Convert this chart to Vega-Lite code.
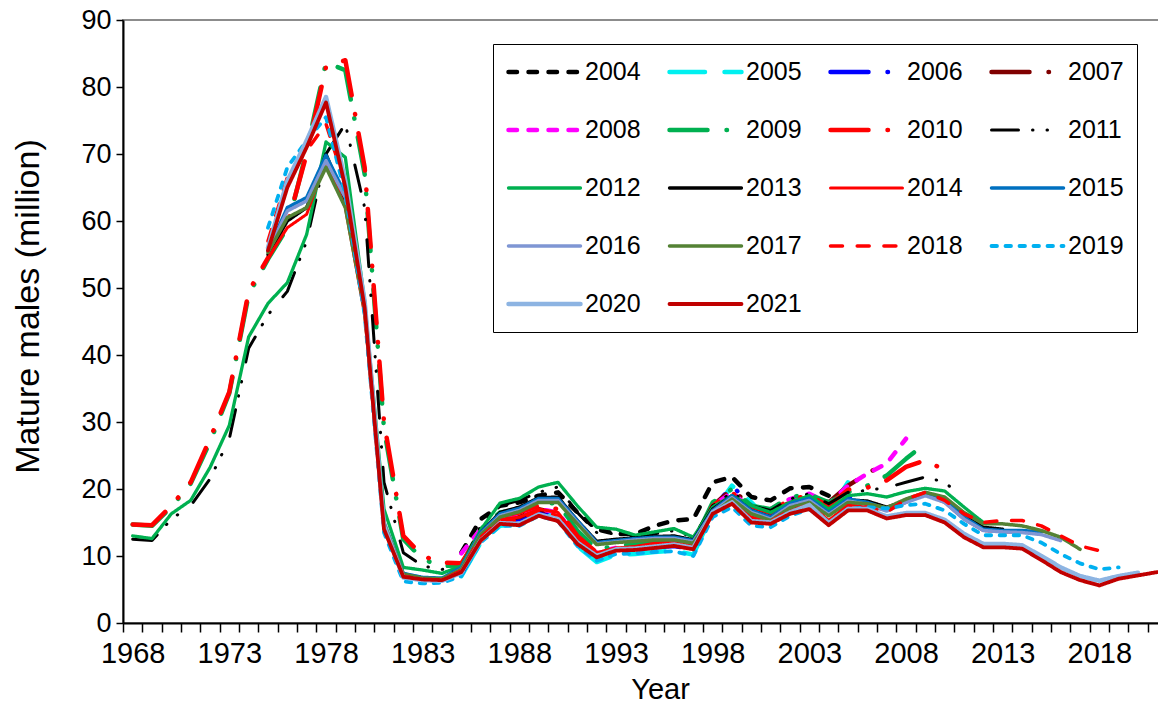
{
"$schema": "https://vega.github.io/schema/vega-lite/v6.json",
"width": 1044, "height": 603,
"autosize": {"type": "none"},
"padding": {"left": 123, "top": 20, "right": 0, "bottom": 81},
"background": "white",
"config": {"view": {"stroke": "#8c8c8c", "strokeWidth": 2}, "font": "Liberation Sans"},
"datasets": {
"d": [
{"series":"2004","year":1985,"males":10.5},{"series":"2004","year":1986,"males":15.5},{"series":"2004","year":1987,"males":17.5},{"series":"2004","year":1988,"males":18.0},{"series":"2004","year":1989,"males":19.0},{"series":"2004","year":1990,"males":19.5},{"series":"2004","year":1991,"males":16.5},{"series":"2004","year":1992,"males":14.0},{"series":"2004","year":1993,"males":13.3},{"series":"2004","year":1994,"males":13.3},{"series":"2004","year":1995,"males":14.5},{"series":"2004","year":1996,"males":15.3},{"series":"2004","year":1997,"males":15.5},{"series":"2004","year":1998,"males":21.0},{"series":"2004","year":1999,"males":21.8},{"series":"2004","year":2000,"males":18.8},{"series":"2004","year":2001,"males":18.3},{"series":"2004","year":2002,"males":20.1},{"series":"2004","year":2003,"males":20.3},{"series":"2004","year":2004,"males":19.0},
{"series":"2005","year":1985,"males":7.0},{"series":"2005","year":1986,"males":12.0},{"series":"2005","year":1987,"males":14.5},{"series":"2005","year":1988,"males":14.8},{"series":"2005","year":1989,"males":16.5},{"series":"2005","year":1990,"males":15.8},{"series":"2005","year":1991,"males":11.5},{"series":"2005","year":1992,"males":9.1},{"series":"2005","year":1993,"males":10.2},{"series":"2005","year":1994,"males":10.3},{"series":"2005","year":1995,"males":10.6},{"series":"2005","year":1996,"males":10.8},{"series":"2005","year":1997,"males":10.2},{"series":"2005","year":1998,"males":16.5},{"series":"2005","year":1999,"males":20.5},{"series":"2005","year":2000,"males":18.0},{"series":"2005","year":2001,"males":15.0},{"series":"2005","year":2002,"males":16.5},{"series":"2005","year":2003,"males":17.8},{"series":"2005","year":2004,"males":16.5},{"series":"2005","year":2005,"males":21.0},
{"series":"2006","year":1985,"males":7.3},{"series":"2006","year":1986,"males":12.5},{"series":"2006","year":1987,"males":15.0},{"series":"2006","year":1988,"males":15.5},{"series":"2006","year":1989,"males":16.8},{"series":"2006","year":1990,"males":16.0},{"series":"2006","year":1991,"males":12.0},{"series":"2006","year":1992,"males":10.0},{"series":"2006","year":1993,"males":10.8},{"series":"2006","year":1994,"males":11.0},{"series":"2006","year":1995,"males":11.3},{"series":"2006","year":1996,"males":11.5},{"series":"2006","year":1997,"males":11.0},{"series":"2006","year":1998,"males":17.0},{"series":"2006","year":1999,"males":20.5},{"series":"2006","year":2000,"males":17.5},{"series":"2006","year":2001,"males":16.0},{"series":"2006","year":2002,"males":17.5},{"series":"2006","year":2003,"males":18.5},{"series":"2006","year":2004,"males":16.5},{"series":"2006","year":2005,"males":18.5},{"series":"2006","year":2006,"males":19.0},
{"series":"2007","year":1985,"males":7.5},{"series":"2007","year":1986,"males":12.8},{"series":"2007","year":1987,"males":15.3},{"series":"2007","year":1988,"males":15.8},{"series":"2007","year":1989,"males":17.0},{"series":"2007","year":1990,"males":16.3},{"series":"2007","year":1991,"males":12.3},{"series":"2007","year":1992,"males":10.3},{"series":"2007","year":1993,"males":11.0},{"series":"2007","year":1994,"males":11.2},{"series":"2007","year":1995,"males":11.5},{"series":"2007","year":1996,"males":11.8},{"series":"2007","year":1997,"males":11.3},{"series":"2007","year":1998,"males":17.5},{"series":"2007","year":1999,"males":20.0},{"series":"2007","year":2000,"males":17.3},{"series":"2007","year":2001,"males":16.5},{"series":"2007","year":2002,"males":18.0},{"series":"2007","year":2003,"males":19.0},{"series":"2007","year":2004,"males":18.0},{"series":"2007","year":2005,"males":20.5},{"series":"2007","year":2006,"males":22.3},{"series":"2007","year":2007,"males":24.0},
{"series":"2008","year":1985,"males":10.4},{"series":"2008","year":1986,"males":14.0},{"series":"2008","year":1987,"males":15.5},{"series":"2008","year":1988,"males":16.0},{"series":"2008","year":1989,"males":17.0},{"series":"2008","year":1990,"males":16.5},{"series":"2008","year":1991,"males":12.5},{"series":"2008","year":1992,"males":10.5},{"series":"2008","year":1993,"males":11.2},{"series":"2008","year":1994,"males":11.5},{"series":"2008","year":1995,"males":11.8},{"series":"2008","year":1996,"males":12.0},{"series":"2008","year":1997,"males":11.5},{"series":"2008","year":1998,"males":17.5},{"series":"2008","year":1999,"males":19.5},{"series":"2008","year":2000,"males":17.0},{"series":"2008","year":2001,"males":17.0},{"series":"2008","year":2002,"males":18.5},{"series":"2008","year":2003,"males":19.3},{"series":"2008","year":2004,"males":17.8},{"series":"2008","year":2005,"males":20.5},{"series":"2008","year":2006,"males":22.3},{"series":"2008","year":2007,"males":23.8},{"series":"2008","year":2008,"males":27.5},
{"series":"2009","year":1968,"males":14.7},{"series":"2009","year":1969,"males":14.5},{"series":"2009","year":1970,"males":17.3},{"series":"2009","year":1971,"males":20.8},{"series":"2009","year":1972,"males":27.0},{"series":"2009","year":1973,"males":34.3},{"series":"2009","year":1974,"males":49.0},{"series":"2009","year":1975,"males":54.3},{"series":"2009","year":1976,"males":59.0},{"series":"2009","year":1977,"males":70.5},{"series":"2009","year":1978,"males":83.7},{"series":"2009","year":1979,"males":82.5},{"series":"2009","year":1980,"males":67.0},{"series":"2009","year":1981,"males":29.0},{"series":"2009","year":1982,"males":12.5},{"series":"2009","year":1983,"males":9.5},{"series":"2009","year":1984,"males":8.5},{"series":"2009","year":1985,"males":8.6},{"series":"2009","year":1986,"males":14.0},{"series":"2009","year":1987,"males":16.5},{"series":"2009","year":1988,"males":17.0},{"series":"2009","year":1989,"males":18.0},{"series":"2009","year":1990,"males":17.8},{"series":"2009","year":1991,"males":13.8},{"series":"2009","year":1992,"males":11.0},{"series":"2009","year":1993,"males":11.5},{"series":"2009","year":1994,"males":11.8},{"series":"2009","year":1995,"males":12.2},{"series":"2009","year":1996,"males":12.3},{"series":"2009","year":1997,"males":12.0},{"series":"2009","year":1998,"males":18.0},{"series":"2009","year":1999,"males":20.0},{"series":"2009","year":2000,"males":17.5},{"series":"2009","year":2001,"males":17.0},{"series":"2009","year":2002,"males":18.8},{"series":"2009","year":2003,"males":19.2},{"series":"2009","year":2004,"males":18.0},{"series":"2009","year":2005,"males":19.5},{"series":"2009","year":2006,"males":20.5},{"series":"2009","year":2007,"males":22.0},{"series":"2009","year":2008,"males":24.5},{"series":"2009","year":2009,"males":26.8},
{"series":"2010","year":1968,"males":14.7},{"series":"2010","year":1969,"males":14.6},{"series":"2010","year":1970,"males":17.5},{"series":"2010","year":1971,"males":21.0},{"series":"2010","year":1972,"males":27.5},{"series":"2010","year":1973,"males":34.5},{"series":"2010","year":1974,"males":49.5},{"series":"2010","year":1975,"males":54.5},{"series":"2010","year":1976,"males":59.5},{"series":"2010","year":1977,"males":70.0},{"series":"2010","year":1978,"males":83.0},{"series":"2010","year":1979,"males":84.0},{"series":"2010","year":1980,"males":68.0},{"series":"2010","year":1981,"males":30.0},{"series":"2010","year":1982,"males":13.0},{"series":"2010","year":1983,"males":10.0},{"series":"2010","year":1984,"males":9.0},{"series":"2010","year":1985,"males":8.9},{"series":"2010","year":1986,"males":13.5},{"series":"2010","year":1987,"males":16.0},{"series":"2010","year":1988,"males":16.5},{"series":"2010","year":1989,"males":17.5},{"series":"2010","year":1990,"males":17.0},{"series":"2010","year":1991,"males":13.0},{"series":"2010","year":1992,"males":10.5},{"series":"2010","year":1993,"males":11.0},{"series":"2010","year":1994,"males":11.3},{"series":"2010","year":1995,"males":11.8},{"series":"2010","year":1996,"males":12.0},{"series":"2010","year":1997,"males":11.5},{"series":"2010","year":1998,"males":17.5},{"series":"2010","year":1999,"males":19.5},{"series":"2010","year":2000,"males":17.0},{"series":"2010","year":2001,"males":16.5},{"series":"2010","year":2002,"males":18.5},{"series":"2010","year":2003,"males":19.0},{"series":"2010","year":2004,"males":17.5},{"series":"2010","year":2005,"males":19.9},{"series":"2010","year":2006,"males":20.2},{"series":"2010","year":2007,"males":21.3},{"series":"2010","year":2008,"males":23.3},{"series":"2010","year":2009,"males":24.3},{"series":"2010","year":2010,"males":22.8},
{"series":"2011","year":1968,"males":12.5},{"series":"2011","year":1969,"males":12.3},{"series":"2011","year":1970,"males":15.5},{"series":"2011","year":1971,"males":17.5},{"series":"2011","year":1972,"males":21.5},{"series":"2011","year":1973,"males":27.5},{"series":"2011","year":1974,"males":41.0},{"series":"2011","year":1975,"males":46.0},{"series":"2011","year":1976,"males":49.5},{"series":"2011","year":1977,"males":57.0},{"series":"2011","year":1978,"males":70.0},{"series":"2011","year":1979,"males":74.5},{"series":"2011","year":1980,"males":62.0},{"series":"2011","year":1981,"males":21.0},{"series":"2011","year":1982,"males":10.5},{"series":"2011","year":1983,"males":8.5},{"series":"2011","year":1984,"males":8.0},{"series":"2011","year":1985,"males":8.3},{"series":"2011","year":1986,"males":14.5},{"series":"2011","year":1987,"males":17.5},{"series":"2011","year":1988,"males":18.3},{"series":"2011","year":1989,"males":19.5},{"series":"2011","year":1990,"males":20.3},{"series":"2011","year":1991,"males":16.5},{"series":"2011","year":1992,"males":13.5},{"series":"2011","year":1993,"males":13.3},{"series":"2011","year":1994,"males":12.8},{"series":"2011","year":1995,"males":13.3},{"series":"2011","year":1996,"males":13.8},{"series":"2011","year":1997,"males":12.8},{"series":"2011","year":1998,"males":17.5},{"series":"2011","year":1999,"males":19.5},{"series":"2011","year":2000,"males":17.5},{"series":"2011","year":2001,"males":16.8},{"series":"2011","year":2002,"males":18.5},{"series":"2011","year":2003,"males":19.3},{"series":"2011","year":2004,"males":17.8},{"series":"2011","year":2005,"males":19.5},{"series":"2011","year":2006,"males":19.8},{"series":"2011","year":2007,"males":20.2},{"series":"2011","year":2008,"males":21.0},{"series":"2011","year":2009,"males":21.8},{"series":"2011","year":2010,"males":21.0},{"series":"2011","year":2011,"males":18.6},
{"series":"2012","year":1968,"males":13.0},{"series":"2012","year":1969,"males":12.6},{"series":"2012","year":1970,"males":16.3},{"series":"2012","year":1971,"males":18.3},{"series":"2012","year":1972,"males":23.2},{"series":"2012","year":1973,"males":29.5},{"series":"2012","year":1974,"males":42.7},{"series":"2012","year":1975,"males":47.7},{"series":"2012","year":1976,"males":50.8},{"series":"2012","year":1977,"males":58.0},{"series":"2012","year":1978,"males":71.8},{"series":"2012","year":1979,"males":69.5},{"series":"2012","year":1980,"males":48.0},{"series":"2012","year":1981,"males":17.0},{"series":"2012","year":1982,"males":8.3},{"series":"2012","year":1983,"males":7.9},{"series":"2012","year":1984,"males":7.4},{"series":"2012","year":1985,"males":8.5},{"series":"2012","year":1986,"males":13.9},{"series":"2012","year":1987,"males":17.9},{"series":"2012","year":1988,"males":18.6},{"series":"2012","year":1989,"males":20.3},{"series":"2012","year":1990,"males":21.0},{"series":"2012","year":1991,"males":17.5},{"series":"2012","year":1992,"males":14.3},{"series":"2012","year":1993,"males":14.0},{"series":"2012","year":1994,"males":13.1},{"series":"2012","year":1995,"males":13.6},{"series":"2012","year":1996,"males":14.1},{"series":"2012","year":1997,"males":12.8},{"series":"2012","year":1998,"males":17.3},{"series":"2012","year":1999,"males":19.0},{"series":"2012","year":2000,"males":17.5},{"series":"2012","year":2001,"males":16.5},{"series":"2012","year":2002,"males":18.0},{"series":"2012","year":2003,"males":19.0},{"series":"2012","year":2004,"males":17.0},{"series":"2012","year":2005,"males":19.0},{"series":"2012","year":2006,"males":19.3},{"series":"2012","year":2007,"males":18.8},{"series":"2012","year":2008,"males":19.6},{"series":"2012","year":2009,"males":20.1},{"series":"2012","year":2010,"males":19.7},{"series":"2012","year":2011,"males":17.3},{"series":"2012","year":2012,"males":15.0},
{"series":"2013","year":1975,"males":55.0},{"series":"2013","year":1976,"males":60.0},{"series":"2013","year":1977,"males":62.0},{"series":"2013","year":1978,"males":70.0},{"series":"2013","year":1979,"males":63.0},{"series":"2013","year":1980,"males":47.0},{"series":"2013","year":1981,"males":14.5},{"series":"2013","year":1982,"males":7.3},{"series":"2013","year":1983,"males":6.7},{"series":"2013","year":1984,"males":6.6},{"series":"2013","year":1985,"males":8.0},{"series":"2013","year":1986,"males":13.5},{"series":"2013","year":1987,"males":16.5},{"series":"2013","year":1988,"males":17.3},{"series":"2013","year":1989,"males":18.7},{"series":"2013","year":1990,"males":18.8},{"series":"2013","year":1991,"males":15.3},{"series":"2013","year":1992,"males":12.2},{"series":"2013","year":1993,"males":12.5},{"series":"2013","year":1994,"males":12.7},{"series":"2013","year":1995,"males":12.9},{"series":"2013","year":1996,"males":13.0},{"series":"2013","year":1997,"males":12.4},{"series":"2013","year":1998,"males":17.0},{"series":"2013","year":1999,"males":19.0},{"series":"2013","year":2000,"males":16.8},{"series":"2013","year":2001,"males":15.8},{"series":"2013","year":2002,"males":17.6},{"series":"2013","year":2003,"males":18.4},{"series":"2013","year":2004,"males":16.3},{"series":"2013","year":2005,"males":18.4},{"series":"2013","year":2006,"males":18.2},{"series":"2013","year":2007,"males":17.3},{"series":"2013","year":2008,"males":18.2},{"series":"2013","year":2009,"males":19.2},{"series":"2013","year":2010,"males":18.5},{"series":"2013","year":2011,"males":16.0},{"series":"2013","year":2012,"males":14.3},{"series":"2013","year":2013,"males":14.0},
{"series":"2014","year":1975,"males":54.5},{"series":"2014","year":1976,"males":59.0},{"series":"2014","year":1977,"males":61.0},{"series":"2014","year":1978,"males":69.0},{"series":"2014","year":1979,"males":62.0},{"series":"2014","year":1980,"males":46.0},{"series":"2014","year":1981,"males":14.0},{"series":"2014","year":1982,"males":7.0},{"series":"2014","year":1983,"males":6.6},{"series":"2014","year":1984,"males":6.5},{"series":"2014","year":1985,"males":7.8},{"series":"2014","year":1986,"males":12.8},{"series":"2014","year":1987,"males":15.5},{"series":"2014","year":1988,"males":15.8},{"series":"2014","year":1989,"males":17.0},{"series":"2014","year":1990,"males":16.5},{"series":"2014","year":1991,"males":12.7},{"series":"2014","year":1992,"males":10.5},{"series":"2014","year":1993,"males":11.2},{"series":"2014","year":1994,"males":11.4},{"series":"2014","year":1995,"males":11.7},{"series":"2014","year":1996,"males":12.0},{"series":"2014","year":1997,"males":11.5},{"series":"2014","year":1998,"males":16.8},{"series":"2014","year":1999,"males":18.5},{"series":"2014","year":2000,"males":15.8},{"series":"2014","year":2001,"males":15.3},{"series":"2014","year":2002,"males":16.8},{"series":"2014","year":2003,"males":17.8},{"series":"2014","year":2004,"males":15.3},{"series":"2014","year":2005,"males":17.6},{"series":"2014","year":2006,"males":17.5},{"series":"2014","year":2007,"males":16.8},{"series":"2014","year":2008,"males":18.0},{"series":"2014","year":2009,"males":19.2},{"series":"2014","year":2010,"males":18.0},{"series":"2014","year":2011,"males":15.5},{"series":"2014","year":2012,"males":13.8},{"series":"2014","year":2013,"males":13.6},{"series":"2014","year":2014,"males":13.5},
{"series":"2015","year":1975,"males":55.6},{"series":"2015","year":1976,"males":62.0},{"series":"2015","year":1977,"males":63.5},{"series":"2015","year":1978,"males":69.8},{"series":"2015","year":1979,"males":64.0},{"series":"2015","year":1980,"males":47.5},{"series":"2015","year":1981,"males":15.0},{"series":"2015","year":1982,"males":7.4},{"series":"2015","year":1983,"males":6.8},{"series":"2015","year":1984,"males":6.7},{"series":"2015","year":1985,"males":8.3},{"series":"2015","year":1986,"males":13.5},{"series":"2015","year":1987,"males":16.3},{"series":"2015","year":1988,"males":17.1},{"series":"2015","year":1989,"males":18.6},{"series":"2015","year":1990,"males":18.6},{"series":"2015","year":1991,"males":15.3},{"series":"2015","year":1992,"males":12.0},{"series":"2015","year":1993,"males":12.3},{"series":"2015","year":1994,"males":12.6},{"series":"2015","year":1995,"males":12.8},{"series":"2015","year":1996,"males":12.8},{"series":"2015","year":1997,"males":12.3},{"series":"2015","year":1998,"males":16.8},{"series":"2015","year":1999,"males":19.0},{"series":"2015","year":2000,"males":16.8},{"series":"2015","year":2001,"males":15.8},{"series":"2015","year":2002,"males":17.8},{"series":"2015","year":2003,"males":18.6},{"series":"2015","year":2004,"males":16.5},{"series":"2015","year":2005,"males":18.5},{"series":"2015","year":2006,"males":18.0},{"series":"2015","year":2007,"males":17.0},{"series":"2015","year":2008,"males":18.3},{"series":"2015","year":2009,"males":19.3},{"series":"2015","year":2010,"males":18.3},{"series":"2015","year":2011,"males":15.8},{"series":"2015","year":2012,"males":14.0},{"series":"2015","year":2013,"males":13.8},{"series":"2015","year":2014,"males":13.8},{"series":"2015","year":2015,"males":13.6},
{"series":"2016","year":1975,"males":55.5},{"series":"2016","year":1976,"males":61.5},{"series":"2016","year":1977,"males":63.0},{"series":"2016","year":1978,"males":69.0},{"series":"2016","year":1979,"males":63.5},{"series":"2016","year":1980,"males":47.5},{"series":"2016","year":1981,"males":15.0},{"series":"2016","year":1982,"males":7.2},{"series":"2016","year":1983,"males":6.6},{"series":"2016","year":1984,"males":6.5},{"series":"2016","year":1985,"males":8.0},{"series":"2016","year":1986,"males":13.2},{"series":"2016","year":1987,"males":16.0},{"series":"2016","year":1988,"males":16.8},{"series":"2016","year":1989,"males":18.3},{"series":"2016","year":1990,"males":18.3},{"series":"2016","year":1991,"males":15.0},{"series":"2016","year":1992,"males":11.8},{"series":"2016","year":1993,"males":12.1},{"series":"2016","year":1994,"males":12.4},{"series":"2016","year":1995,"males":12.6},{"series":"2016","year":1996,"males":12.6},{"series":"2016","year":1997,"males":12.1},{"series":"2016","year":1998,"males":16.6},{"series":"2016","year":1999,"males":18.7},{"series":"2016","year":2000,"males":16.5},{"series":"2016","year":2001,"males":15.5},{"series":"2016","year":2002,"males":17.5},{"series":"2016","year":2003,"males":18.3},{"series":"2016","year":2004,"males":16.2},{"series":"2016","year":2005,"males":18.2},{"series":"2016","year":2006,"males":17.7},{"series":"2016","year":2007,"males":16.7},{"series":"2016","year":2008,"males":18.0},{"series":"2016","year":2009,"males":19.0},{"series":"2016","year":2010,"males":18.0},{"series":"2016","year":2011,"males":15.5},{"series":"2016","year":2012,"males":13.8},{"series":"2016","year":2013,"males":13.6},{"series":"2016","year":2014,"males":13.5},{"series":"2016","year":2015,"males":13.2},{"series":"2016","year":2016,"males":12.3},
{"series":"2017","year":1975,"males":55.3},{"series":"2017","year":1976,"males":60.5},{"series":"2017","year":1977,"males":62.0},{"series":"2017","year":1978,"males":68.0},{"series":"2017","year":1979,"males":62.0},{"series":"2017","year":1980,"males":46.5},{"series":"2017","year":1981,"males":14.8},{"series":"2017","year":1982,"males":7.3},{"series":"2017","year":1983,"males":6.7},{"series":"2017","year":1984,"males":6.6},{"series":"2017","year":1985,"males":8.0},{"series":"2017","year":1986,"males":13.2},{"series":"2017","year":1987,"males":15.8},{"series":"2017","year":1988,"males":16.6},{"series":"2017","year":1989,"males":18.0},{"series":"2017","year":1990,"males":18.0},{"series":"2017","year":1991,"males":14.8},{"series":"2017","year":1992,"males":11.7},{"series":"2017","year":1993,"males":12.0},{"series":"2017","year":1994,"males":12.2},{"series":"2017","year":1995,"males":12.4},{"series":"2017","year":1996,"males":12.4},{"series":"2017","year":1997,"males":11.9},{"series":"2017","year":1998,"males":16.3},{"series":"2017","year":1999,"males":18.5},{"series":"2017","year":2000,"males":16.3},{"series":"2017","year":2001,"males":15.3},{"series":"2017","year":2002,"males":17.2},{"series":"2017","year":2003,"males":18.0},{"series":"2017","year":2004,"males":16.0},{"series":"2017","year":2005,"males":18.0},{"series":"2017","year":2006,"males":17.8},{"series":"2017","year":2007,"males":17.2},{"series":"2017","year":2008,"males":18.5},{"series":"2017","year":2009,"males":19.5},{"series":"2017","year":2010,"males":18.8},{"series":"2017","year":2011,"males":16.5},{"series":"2017","year":2012,"males":14.8},{"series":"2017","year":2013,"males":14.8},{"series":"2017","year":2014,"males":14.5},{"series":"2017","year":2015,"males":13.8},{"series":"2017","year":2016,"males":12.8},{"series":"2017","year":2017,"males":11.0},
{"series":"2018","year":1975,"males":57.0},{"series":"2018","year":1976,"males":66.5},{"series":"2018","year":1977,"males":70.5},{"series":"2018","year":1978,"males":74.5},{"series":"2018","year":1979,"males":65.5},{"series":"2018","year":1980,"males":47.5},{"series":"2018","year":1981,"males":14.5},{"series":"2018","year":1982,"males":7.0},{"series":"2018","year":1983,"males":6.5},{"series":"2018","year":1984,"males":6.4},{"series":"2018","year":1985,"males":7.8},{"series":"2018","year":1986,"males":12.8},{"series":"2018","year":1987,"males":15.3},{"series":"2018","year":1988,"males":15.3},{"series":"2018","year":1989,"males":16.8},{"series":"2018","year":1990,"males":16.0},{"series":"2018","year":1991,"males":12.5},{"series":"2018","year":1992,"males":10.3},{"series":"2018","year":1993,"males":11.0},{"series":"2018","year":1994,"males":11.2},{"series":"2018","year":1995,"males":11.5},{"series":"2018","year":1996,"males":11.8},{"series":"2018","year":1997,"males":11.3},{"series":"2018","year":1998,"males":16.5},{"series":"2018","year":1999,"males":18.0},{"series":"2018","year":2000,"males":15.5},{"series":"2018","year":2001,"males":15.2},{"series":"2018","year":2002,"males":16.8},{"series":"2018","year":2003,"males":17.6},{"series":"2018","year":2004,"males":15.2},{"series":"2018","year":2005,"males":17.5},{"series":"2018","year":2006,"males":17.3},{"series":"2018","year":2007,"males":16.5},{"series":"2018","year":2008,"males":18.5},{"series":"2018","year":2009,"males":19.5},{"series":"2018","year":2010,"males":18.3},{"series":"2018","year":2011,"males":16.3},{"series":"2018","year":2012,"males":15.0},{"series":"2018","year":2013,"males":15.3},{"series":"2018","year":2014,"males":15.3},{"series":"2018","year":2015,"males":14.5},{"series":"2018","year":2016,"males":13.0},{"series":"2018","year":2017,"males":11.5},{"series":"2018","year":2018,"males":10.8},
{"series":"2019","year":1975,"males":59.0},{"series":"2019","year":1976,"males":68.0},{"series":"2019","year":1977,"males":72.0},{"series":"2019","year":1978,"males":75.5},{"series":"2019","year":1979,"males":64.0},{"series":"2019","year":1980,"males":46.0},{"series":"2019","year":1981,"males":13.5},{"series":"2019","year":1982,"males":6.2},{"series":"2019","year":1983,"males":5.9},{"series":"2019","year":1984,"males":6.0},{"series":"2019","year":1985,"males":7.0},{"series":"2019","year":1986,"males":12.0},{"series":"2019","year":1987,"males":14.5},{"series":"2019","year":1988,"males":14.5},{"series":"2019","year":1989,"males":16.0},{"series":"2019","year":1990,"males":15.2},{"series":"2019","year":1991,"males":11.5},{"series":"2019","year":1992,"males":9.3},{"series":"2019","year":1993,"males":10.3},{"series":"2019","year":1994,"males":10.4},{"series":"2019","year":1995,"males":10.6},{"series":"2019","year":1996,"males":10.7},{"series":"2019","year":1997,"males":10.0},{"series":"2019","year":1998,"males":15.8},{"series":"2019","year":1999,"males":17.3},{"series":"2019","year":2000,"males":14.5},{"series":"2019","year":2001,"males":14.3},{"series":"2019","year":2002,"males":16.0},{"series":"2019","year":2003,"males":17.0},{"series":"2019","year":2004,"males":14.8},{"series":"2019","year":2005,"males":17.0},{"series":"2019","year":2006,"males":17.3},{"series":"2019","year":2007,"males":17.1},{"series":"2019","year":2008,"males":17.6},{"series":"2019","year":2009,"males":17.8},{"series":"2019","year":2010,"males":16.8},{"series":"2019","year":2011,"males":14.8},{"series":"2019","year":2012,"males":13.1},{"series":"2019","year":2013,"males":13.1},{"series":"2019","year":2014,"males":13.1},{"series":"2019","year":2015,"males":12.0},{"series":"2019","year":2016,"males":10.3},{"series":"2019","year":2017,"males":8.9},{"series":"2019","year":2018,"males":8.0},{"series":"2019","year":2019,"males":8.3},
{"series":"2020","year":1975,"males":56.0},{"series":"2020","year":1976,"males":66.0},{"series":"2020","year":1977,"males":72.0},{"series":"2020","year":1978,"males":78.5},{"series":"2020","year":1979,"males":66.0},{"series":"2020","year":1980,"males":48.0},{"series":"2020","year":1981,"males":14.5},{"series":"2020","year":1982,"males":6.8},{"series":"2020","year":1983,"males":6.4},{"series":"2020","year":1984,"males":6.3},{"series":"2020","year":1985,"males":7.5},{"series":"2020","year":1986,"males":12.3},{"series":"2020","year":1987,"males":14.9},{"series":"2020","year":1988,"males":14.8},{"series":"2020","year":1989,"males":16.2},{"series":"2020","year":1990,"males":15.5},{"series":"2020","year":1991,"males":12.0},{"series":"2020","year":1992,"males":10.0},{"series":"2020","year":1993,"males":11.0},{"series":"2020","year":1994,"males":11.1},{"series":"2020","year":1995,"males":11.4},{"series":"2020","year":1996,"males":11.7},{"series":"2020","year":1997,"males":11.2},{"series":"2020","year":1998,"males":16.5},{"series":"2020","year":1999,"males":18.0},{"series":"2020","year":2000,"males":15.2},{"series":"2020","year":2001,"males":15.0},{"series":"2020","year":2002,"males":16.5},{"series":"2020","year":2003,"males":17.6},{"series":"2020","year":2004,"males":14.9},{"series":"2020","year":2005,"males":17.0},{"series":"2020","year":2006,"males":17.0},{"series":"2020","year":2007,"males":15.9},{"series":"2020","year":2008,"males":16.4},{"series":"2020","year":2009,"males":16.4},{"series":"2020","year":2010,"males":15.4},{"series":"2020","year":2011,"males":13.3},{"series":"2020","year":2012,"males":11.8},{"series":"2020","year":2013,"males":11.8},{"series":"2020","year":2014,"males":11.6},{"series":"2020","year":2015,"males":10.0},{"series":"2020","year":2016,"males":8.3},{"series":"2020","year":2017,"males":7.0},{"series":"2020","year":2018,"males":6.3},{"series":"2020","year":2019,"males":7.0},{"series":"2020","year":2020,"males":7.5},
{"series":"2021","year":1975,"males":55.6},{"series":"2021","year":1976,"males":65.0},{"series":"2021","year":1977,"males":71.0},{"series":"2021","year":1978,"males":77.7},{"series":"2021","year":1979,"males":65.0},{"series":"2021","year":1980,"males":47.0},{"series":"2021","year":1981,"males":14.0},{"series":"2021","year":1982,"males":6.9},{"series":"2021","year":1983,"males":6.5},{"series":"2021","year":1984,"males":6.4},{"series":"2021","year":1985,"males":7.6},{"series":"2021","year":1986,"males":12.3},{"series":"2021","year":1987,"males":14.8},{"series":"2021","year":1988,"males":14.6},{"series":"2021","year":1989,"males":16.0},{"series":"2021","year":1990,"males":15.2},{"series":"2021","year":1991,"males":11.8},{"series":"2021","year":1992,"males":9.8},{"series":"2021","year":1993,"males":10.8},{"series":"2021","year":1994,"males":10.9},{"series":"2021","year":1995,"males":11.2},{"series":"2021","year":1996,"males":11.5},{"series":"2021","year":1997,"males":11.0},{"series":"2021","year":1998,"males":16.3},{"series":"2021","year":1999,"males":17.8},{"series":"2021","year":2000,"males":15.0},{"series":"2021","year":2001,"males":14.8},{"series":"2021","year":2002,"males":16.3},{"series":"2021","year":2003,"males":17.0},{"series":"2021","year":2004,"males":14.6},{"series":"2021","year":2005,"males":16.8},{"series":"2021","year":2006,"males":16.8},{"series":"2021","year":2007,"males":15.6},{"series":"2021","year":2008,"males":16.1},{"series":"2021","year":2009,"males":16.1},{"series":"2021","year":2010,"males":15.0},{"series":"2021","year":2011,"males":12.8},{"series":"2021","year":2012,"males":11.3},{"series":"2021","year":2013,"males":11.3},{"series":"2021","year":2014,"males":11.1},{"series":"2021","year":2015,"males":9.4},{"series":"2021","year":2016,"males":7.6},{"series":"2021","year":2017,"males":6.4},{"series":"2021","year":2018,"males":5.6},{"series":"2021","year":2019,"males":6.6},{"series":"2021","year":2020,"males":7.1},{"series":"2021","year":2021,"males":7.6}
]
},
"data": {"name": "d"},
"mark": {"type": "line", "strokeCap": "round", "strokeJoin": "round"},
"encoding": {
"x": {"field": "year", "type": "ordinal", "bandPosition": 0.5,
 "scale": {"type": "band", "paddingInner": 0, "paddingOuter": 0,
  "domain": [1968,1969,1970,1971,1972,1973,1974,1975,1976,1977,1978,1979,1980,1981,1982,1983,1984,1985,1986,1987,1988,1989,1990,1991,1992,1993,1994,1995,1996,1997,1998,1999,2000,2001,2002,2003,2004,2005,2006,2007,2008,2009,2010,2011,2012,2013,2014,2015,2016,2017,2018,2019,2020,2021]},
 "axis": {"title": "Year", "titleFontSize": 29, "titleFontWeight": "normal", "titleColor": "black", "titleX": 537, "titleY": 75, "titleBaseline": "alphabetic",
  "labelExpr": "datum.value % 5 == 3 ? datum.label : ''", "labelAngle": 0, "labelOverlap": false, "labelFontSize": 29, "labelColor": "black", "labelPadding": 7, "labelBaseline": "top",
  "tickBand": "extent", "tickSize": 9, "tickColor": "black", "tickWidth": 1.5, "domainColor": "black", "domainWidth": 2, "grid": false}},
"y": {"field": "males", "type": "quantitative", "scale": {"domain": [0, 90], "nice": false, "zero": true},
 "axis": {"title": "Mature males (million)", "titleFontSize": 34, "titleFontWeight": "normal", "titleColor": "black", "titleX": -95, "titleY": 286, "titleBaseline": "middle", "titleAngle": -90,
  "values": [0,10,20,30,40,50,60,70,80,90], "labelFontSize": 27, "labelColor": "black", "labelPadding": 5,
  "tickSize": 7, "tickColor": "black", "tickWidth": 1.5, "domainColor": "black", "domainWidth": 2, "grid": false}},
"color": {"field": "series", "type": "nominal",
 "scale": {"domain": ["2004","2005","2006","2007","2008","2009","2010","2011","2012","2013","2014","2015","2016","2017","2018","2019","2020","2021"],
  "range": ["#000000","#00F0F0","#0000FF","#800000","#FF00FF","#00B050","#FF0000","#000000","#00B050","#000000","#FF0000","#0070C0","#7F96D4","#548235","#FF0000","#00B0F0","#8DB4E2","#C00000"]},
 "legend": {"title": null, "orient": "none", "legendX": 370, "legendY": 24, "direction": "horizontal", "columns": 4,
  "values": ["2004","2005","2006","2007","2008","2009","2010","2011","2012","2013","2014","2015","2016","2017","2018","2019","2020","2021"],
  "symbolType": "stroke", "symbolSize": 5184, "clipHeight": 30,
  "labelFontSize": 25, "labelColor": "black", "labelOffset": 2, "padding": 13, "rowPadding": 28, "columnPadding": 26,
  "strokeColor": "black", "fillColor": "white",
  "encode": {"symbols": {"update": {"strokeCap": {"value": "round"}}}}}},
"strokeDash": {"field": "series", "type": "nominal",
 "scale": {"domain": ["2004","2005","2006","2007","2008","2009","2010","2011","2012","2013","2014","2015","2016","2017","2018","2019","2020","2021"],
  "range": [[8.5,11.5],[35.5,19.5],[38,19,0.5,19],[38,19,0.5,19],[8.5,11.5],[38,19,0.5,19],[38,19,0.5,19],[27,14,0.5,14,0.5,20],[1,0],[1,0],[1,0],[1,0],[1,0],[1,0],[12,14.7],[5.5,8.5],[1,0],[1,0]]}},
"strokeWidth": {"field": "series", "type": "nominal",
 "scale": {"type": "ordinal", "domain": ["2004","2005","2006","2007","2008","2009","2010","2011","2012","2013","2014","2015","2016","2017","2018","2019","2020","2021"],
  "range": [4.5,4.5,4.5,4.5,4.5,4.5,4.5,3,3.3,3.3,3,3.5,3.5,3.5,3.5,3.8,4.5,3.8]}}
}
}
